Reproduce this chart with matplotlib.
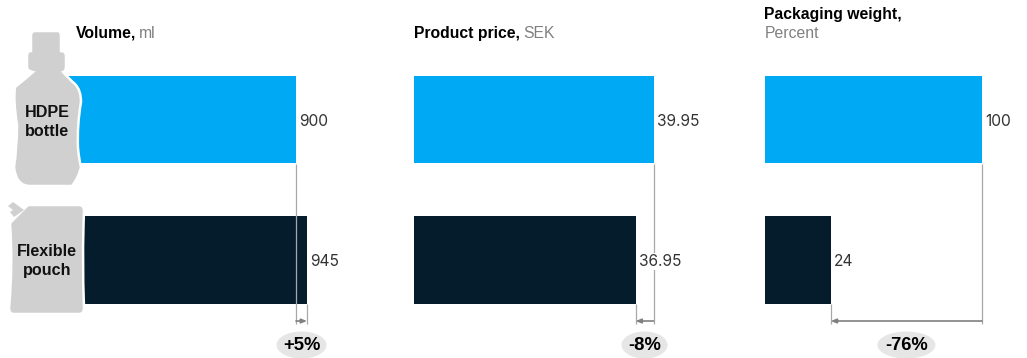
import matplotlib
matplotlib.use("Agg")
import matplotlib.pyplot as plt
from matplotlib.patches import Ellipse, PathPatch
from matplotlib.path import Path
from matplotlib.transforms import ScaledTranslation

# Values per packaging type
packages = ["HDPE\nbottle", "Flexible\npouch"]
volume_ml = [900, 945]
price_sek = [39.95, 36.95]
weight_pct = [100, 24]
volume_labels = ["900", "945"]
price_labels = ["39.95", "36.95"]
weight_labels = ["100", "24"]
change_labels = ["+5%", "-8%", "-76%"]

W, H = 1027, 358
BAR_COLORS = ["#00A9F4", "#051C2C"]
GUIDE = "#a8a8a8"
ARROW = "#808080"
PILL = "#e6e6e6"
SHAPE = "#d0d0d0"
plt.rcParams["font.family"] = ["Inter", "Liberation Sans", "DejaVu Sans"]

fig = plt.figure(figsize=(W / 100, H / 100), dpi=100, facecolor="white")


def make_panel(values, px_top, px_bottom, px_left, px_right):
    """Axes spanning px_left..px_right, scaled so the two values land on their pixel ends."""
    ax = fig.add_axes([px_left / W, 0, (px_right - px_left) / W, 1])
    per_px = (values[0] - values[1]) / (px_top - px_bottom)
    ax.set_xlim(values[0] - (px_top - px_left) * per_px,
                values[0] + (px_right - px_top) * per_px)
    # category 0 is centred at y=119.5 px and category 1 at y=260 px
    step = 140.5
    ax.set_ylim((H - 119.5) / step, -119.5 / step)
    ax.axis("off")
    left = ax.get_xlim()[0]
    for i, v in enumerate(values):
        ax.barh(i, v - left, left=left, height=0.623, color=BAR_COLORS[i], lw=0)
    return ax


ax_vol = make_panel(volume_ml, 296, 307, 60, 380)
ax_price = make_panel(price_sek, 653.5, 635.6, 414, 720)
ax_weight = make_panel(weight_pct, 982, 830.8, 764.5, 1020)

# Overlay in pixel coordinates for annotation furniture
ov = fig.add_axes([0, 0, 1, 1], facecolor="none")
ov.set_xlim(0, W)
ov.set_ylim(H, 0)
ov.axis("off")


def to_px(ax, v):
    return ax.transData.transform((v, 0))[0] * 100 / fig.dpi


def title(x, y, bold, unit, unit_xy=None):
    t = ov.text(x, y, bold, fontsize=11.3, fontweight="bold", color="black",
                family=["Liberation Sans"], va="center", ha="left")
    if unit_xy is None:
        fig.canvas.draw()
        box = t.get_window_extent()
        unit_xy = (box.x1 * 100 / fig.dpi + 3, y)
    ov.text(*unit_xy, unit, fontsize=11.3, color="#808080", va="center", ha="left",
            family=["Liberation Sans"])


title(76, 33.5, "Volume,", "ml")
title(414, 33.5, "Product price,", "SEK")
title(764.5, 14.5, "Packaging weight,", "Percent", (764.5, 34))

panels = [
    (ax_vol, volume_ml, volume_labels),
    (ax_price, price_sek, price_labels),
    (ax_weight, weight_pct, weight_labels),
]
GUIDE_END = 323.5
for (ax, vals, labels), change in zip(panels, change_labels):
    x0, x1 = to_px(ax, vals[0]), to_px(ax, vals[1])
    ov.plot([x0, x0], [163.5, GUIDE_END], color=GUIDE, lw=0.9, solid_capstyle="butt")
    ov.plot([x1, x1], [304, GUIDE_END], color=GUIDE, lw=0.9, solid_capstyle="butt")
    # Labels sit above the guides, on a white backing
    for i, (v, lab) in enumerate(zip(vals, labels)):
        shift = ScaledTranslation(3.5 / 100, -1.5 / 100, fig.dpi_scale_trans)
        lbl = fig.text(0, 0, lab, fontsize=11.2, color="#333333", va="center", ha="left",
                       transform=ax.transData + shift, zorder=6,
                       bbox=dict(facecolor="white", edgecolor="none", pad=0.6))
        lbl.set_position((v, i))
    ov.annotate("", xy=(x1, 321), xytext=(x0, 321),
                arrowprops=dict(arrowstyle="-|>,head_length=0.32,head_width=0.13",
                                color=ARROW, lw=1.2, shrinkA=0, shrinkB=0))
    cx = (x0 + x1) / 2
    width = {"+5%": 50, "-8%": 46, "-76%": 58}[change]
    ov.add_patch(Ellipse((cx, 345), width, 27, color=PILL, lw=0, zorder=3))
    ov.text(cx, 345, change, fontsize=13.2, fontweight="bold", color="black",
            family=["Liberation Sans"], ha="center", va="center", zorder=4)

# Bottle silhouette
M, L, C = Path.MOVETO, Path.LINETO, Path.CURVE3
bottle = [
    ((35, 31), M), ((58, 31), L), ((61, 31), C), ((61, 36), C), ((61, 51), L),
    ((66, 51), C), ((66, 56), C), ((66, 67), L), ((66, 71), C), ((63, 72), C),
    ((68, 78), C), ((75, 84), C), ((81, 90), C), ((81, 102), C),
    ((77, 125), C), ((78, 148), C), ((79, 160), C), ((81, 167), C),
    ((79, 177), C), ((72, 186), C), ((63, 186), C), ((30, 186), L), ((16, 186), C),
    ((14, 167), C), ((17, 148), C), ((17, 125), C), ((13, 100), C),
    ((15, 87), C), ((30, 75), C), ((33, 72), C), ((27, 71), C),
    ((27, 67), C), ((27, 56), L), ((27, 51), C), ((31, 51), C),
    ((31, 36), L), ((31, 31), C), ((35, 31), C), ((35, 31), L),
]
# Pouch silhouette with its angled spout
pouch = [
    ((10, 223), M), ((28, 205), L), ((79, 205), L), ((84, 205), C), ((84, 211), C),
    ((82, 258), C), ((84, 308), C), ((84, 314), C), ((79, 314), C), ((14, 314), L),
    ((9, 314), C), ((9, 308), C), ((13, 265), C), ((10, 223), C),
]
spout = [
    ((8, 206), M), ((13, 202), L), ((24, 210), L), ((14, 217), L), ((10, 212), L),
    ((13, 210), L), ((8, 206), L),
]
for shape in (bottle, pouch):
    verts, codes = zip(*shape)
    ov.add_patch(PathPatch(Path(verts, codes), facecolor=SHAPE, edgecolor="white", lw=1.8, zorder=2))
verts, codes = zip(*spout)
ov.add_patch(PathPatch(Path(verts, codes), facecolor=SHAPE, edgecolor="none", zorder=2))

for (cx, cy), name in zip([(47.5, 122), (47, 261)], packages):
    ov.text(cx, cy, name, fontsize=11.6, fontweight="bold", color="#111111",
            family=["Liberation Sans"], ha="center", va="center", linespacing=1.3, zorder=5)

fig.savefig("out.png", dpi=100)
